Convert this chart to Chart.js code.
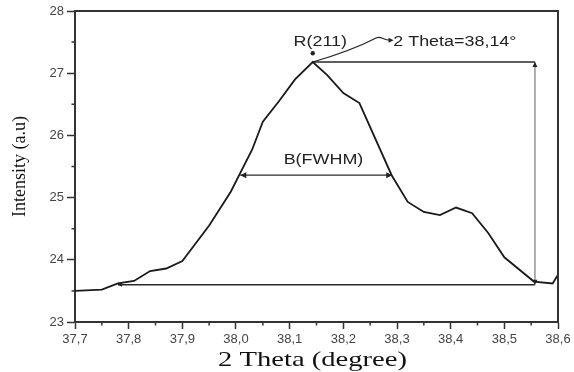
<!DOCTYPE html>
<html>
<head>
<meta charset="utf-8">
<script src="https://cdn.jsdelivr.net/npm/chart.js@4.4.0/dist/chart.umd.min.js"></script>
<style>
html, body { margin: 0; padding: 0; background: #fff; }
#wrap { width: 574px; height: 372px; }
</style>
</head>
<body>
<div id="wrap"><canvas id="Chart"></canvas></div>
<script>
// XRD profile around the R(211) reflection
var theta = [37.70, 37.75, 37.78, 37.81, 37.84, 37.87, 37.90, 37.95, 37.99, 38.03, 38.05, 38.08, 38.11, 38.143,
             38.17, 38.20, 38.23, 38.29, 38.32, 38.35, 38.38, 38.41, 38.44, 38.47, 38.50, 38.555, 38.59, 38.60];
var intensity = [23.50, 23.52, 23.62, 23.66, 23.82, 23.86, 23.98, 24.55, 25.09, 25.77, 26.22, 26.55, 26.90, 27.18,
                 26.97, 26.68, 26.52, 25.36, 24.93, 24.77, 24.72, 24.84, 24.75, 24.43, 24.04, 23.65, 23.62, 23.76];

// construction lines
var baseX = [37.78, 38.557];
var baseY = [23.60, 23.60];
var peakLineX = [38.143, 38.557];
var peakLineY = [27.18, 27.18];
var heightX = [38.557, 38.557];
var heightY = [23.60, 27.18];
var fwhmX = [38.008, 38.291];
var fwhmY = [25.36, 25.36];

// labels and callout
var peakDot = { x: 38.143, y: 27.32 };
var peakLabel = 'R(211)';
var fwhmLabel = 'B(FWHM)';
var thetaLabel = '2 Theta=38,14°';
var calloutX = [38.143, 38.215, 38.262, 38.272, 38.288];
var calloutY = [27.18, 27.36, 27.57, 27.60, 27.53];

// axes
var xMin = 37.7, xMax = 38.6, xStep = 0.1;
var yMin = 23, yMax = 28, yStep = 1;
var xMinor = [37.75, 37.85, 37.95, 38.05, 38.15, 38.25, 38.35, 38.45, 38.55];
var yMinor = [23.5, 24.5, 25.5, 26.5, 27.5];
var xTitle = '2 Theta (degree)';
var yTitle = 'Intensity (a.u)';

function pts(xs, ys) {
    return xs.map(function (x, i) { return { x: x, y: ys[i] }; });
}

function stretchText(ctx, txt, x, y, sx) {
    ctx.save();
    ctx.translate(x, y);
    ctx.scale(sx, 1);
    ctx.fillText(txt, 0, 0);
    ctx.restore();
}

function arrowHead(ctx, x, y, ang, len, half) {
    ctx.save();
    ctx.translate(x, y);
    ctx.rotate(ang);
    ctx.beginPath();
    ctx.moveTo(0, 0);
    ctx.lineTo(-len, -half);
    ctx.lineTo(-len, half);
    ctx.closePath();
    ctx.fill();
    ctx.restore();
}

var extras = {
    id: 'extras',
    afterDraw: function (chart) {
        var ctx = chart.ctx, xs = chart.scales.x, ys = chart.scales.y, a = chart.chartArea;
        ctx.save();

        // frame top and right
        ctx.strokeStyle = '#333';
        ctx.lineWidth = 2;
        ctx.beginPath();
        ctx.moveTo(a.left, a.top);
        ctx.lineTo(a.right, a.top);
        ctx.lineTo(a.right, a.bottom);
        ctx.stroke();

        // minor ticks
        ctx.lineWidth = 1.5;
        ctx.beginPath();
        xMinor.forEach(function (v) {
            var px = xs.getPixelForValue(v);
            ctx.moveTo(px, a.bottom);
            ctx.lineTo(px, a.bottom + 3.5);
        });
        yMinor.forEach(function (v) {
            var py = ys.getPixelForValue(v);
            ctx.moveTo(a.left, py);
            ctx.lineTo(a.left - 3.5, py);
        });
        ctx.stroke();

        // arrow heads
        ctx.fillStyle = '#222';
        arrowHead(ctx, xs.getPixelForValue(fwhmX[0]), ys.getPixelForValue(fwhmY[0]), Math.PI, 6, 3);
        arrowHead(ctx, xs.getPixelForValue(fwhmX[1]), ys.getPixelForValue(fwhmY[1]), 0, 6, 3);
        arrowHead(ctx, xs.getPixelForValue(heightX[1]), ys.getPixelForValue(heightY[1]), -Math.PI / 2, 5, 2.5);
        arrowHead(ctx, xs.getPixelForValue(heightX[0]), ys.getPixelForValue(heightY[0]), Math.PI / 2, 5, 2.5);
        arrowHead(ctx, xs.getPixelForValue(baseX[0]), ys.getPixelForValue(baseY[0]), Math.PI, 4, 2);

        // callout from the peak to the 2 Theta label
        var cx = calloutX.map(function (v) { return xs.getPixelForValue(v); });
        var cy = calloutY.map(function (v) { return ys.getPixelForValue(v); });
        ctx.strokeStyle = '#222';
        ctx.lineWidth = 1.2;
        ctx.beginPath();
        ctx.moveTo(cx[0], cy[0]);
        ctx.quadraticCurveTo(cx[1], cy[1], cx[2], cy[2]);
        ctx.bezierCurveTo(cx[3], cy[3], cx[3], cy[4], cx[4], cy[4]);
        ctx.stroke();
        arrowHead(ctx, cx[4] + 3, cy[4], 0, 5, 2.5);

        // peak dot
        ctx.beginPath();
        ctx.arc(xs.getPixelForValue(peakDot.x), ys.getPixelForValue(peakDot.y), 2.2, 0, Math.PI * 2);
        ctx.fill();

        // annotation texts
        ctx.fillStyle = '#222';
        ctx.font = '14px "Liberation Sans", Arial, sans-serif';
        ctx.textBaseline = 'middle';
        ctx.textAlign = 'center';
        stretchText(ctx, peakLabel, xs.getPixelForValue(38.157), ys.getPixelForValue(27.5), 1.28);
        stretchText(ctx, fwhmLabel, xs.getPixelForValue(38.163), ys.getPixelForValue(25.6), 1.28);
        ctx.textAlign = 'left';
        stretchText(ctx, thetaLabel, xs.getPixelForValue(38.293), ys.getPixelForValue(27.5), 1.28);

        // x axis title
        ctx.fillStyle = '#111';
        ctx.font = '22px "Liberation Serif", "Times New Roman", serif';
        ctx.textAlign = 'center';
        ctx.textBaseline = 'alphabetic';
        stretchText(ctx, xTitle, (a.left + a.right) / 2 - 4, 366, 1.3);

        ctx.restore();
    }
};

var lineStyle = { pointRadius: 0, tension: 0, fill: false };

var config = {
    type: 'line',
    data: {
        datasets: [
            Object.assign({ label: 'Intensity', data: pts(theta, intensity), borderColor: '#1a1a1a', borderWidth: 1.8 }, lineStyle),
            Object.assign({ label: 'Base', data: pts(baseX, baseY), borderColor: '#2a2a2a', borderWidth: 1.6 }, lineStyle),
            Object.assign({ label: 'Peak', data: pts(peakLineX, peakLineY), borderColor: '#2a2a2a', borderWidth: 1.4 }, lineStyle),
            Object.assign({ label: 'Height', data: pts(heightX, heightY), borderColor: '#999', borderWidth: 1.6 }, lineStyle),
            Object.assign({ label: 'FWHM', data: pts(fwhmX, fwhmY), borderColor: '#2a2a2a', borderWidth: 1.3 }, lineStyle)
        ]
    },
    options: {
        responsive: false,
        animation: false,
        layout: { padding: { left: 0, right: 16, top: 11, bottom: 0 } },
        plugins: { legend: { display: false }, tooltip: { enabled: false } },
        scales: {
            x: {
                type: 'linear',
                min: xMin,
                max: xMax,
                afterFit: function (s) { s.height = 50; },
                grid: { drawOnChartArea: false, tickLength: 7, tickWidth: 1.5, tickColor: '#333' },
                border: { display: true, color: '#333', width: 2 },
                ticks: {
                    stepSize: xStep,
                    padding: 3,
                    color: '#444',
                    font: { family: '"Liberation Sans", Arial, sans-serif', size: 13 },
                    maxRotation: 0,
                    callback: function (v) { return v.toFixed(1).replace('.', ','); }
                }
            },
            y: {
                min: yMin,
                max: yMax,
                afterFit: function (s) { s.width = 75; },
                grid: { drawOnChartArea: false, tickLength: 8, tickWidth: 1.5, tickColor: '#333' },
                border: { display: true, color: '#333', width: 2 },
                ticks: {
                    stepSize: yStep,
                    padding: 3,
                    color: '#444',
                    font: { family: '"Liberation Sans", Arial, sans-serif', size: 13 }
                },
                title: {
                    display: true,
                    text: yTitle,
                    color: '#111',
                    padding: { top: 9, bottom: 0 },
                    font: { family: '"Liberation Serif", "Times New Roman", serif', size: 18 }
                }
            }
        }
    },
    plugins: [extras]
};

var canvas = document.getElementById('Chart');
canvas.width = 574;
canvas.height = 372;
var myChart = new Chart(canvas.getContext('2d'), config);
</script>
</body>
</html>
